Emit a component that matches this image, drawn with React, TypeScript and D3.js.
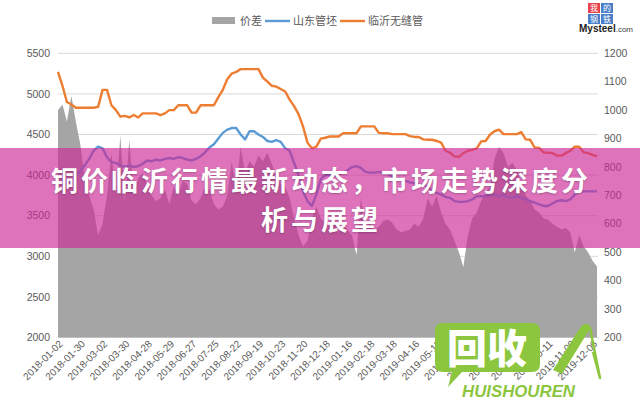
import React from 'react';
import * as d3 from 'd3';

const dateLabels = [
  '2018-01-02', '2018-01-30', '2018-03-02', '2018-03-30', '2018-04-28', '2018-05-29',
  '2018-06-27', '2018-07-25', '2018-08-22', '2018-09-19', '2018-10-23', '2018-11-20',
  '2018-12-18', '2019-01-16', '2019-02-18', '2019-03-18', '2019-04-16', '2019-05-15',
  '2019-06-13', '2019-07-11', '2019-08-08', '2019-09-05', '2019-10-11', '2019-11-08',
  '2019-12-06',
];

// 临沂无缝管 (left axis)
const linyiSeamless = [
  5270, 5100, 4900, 4870, 4830, 4830, 4830, 4830, 4830, 4840,
  5050, 5050, 4860, 4800, 4720, 4730, 4710, 4740, 4710, 4760,
  4760, 4760, 4760, 4740, 4760, 4800, 4800, 4860, 4860, 4860,
  4770, 4770, 4860, 4860, 4860, 4860, 4960, 5050, 5180, 5250,
  5270, 5305, 5305, 5305, 5305, 5305, 5200, 5150, 5100, 5090,
  5060, 5030, 4930, 4850, 4750, 4600, 4400, 4330, 4350, 4450,
  4460, 4475, 4475, 4475, 4515, 4515, 4515, 4515, 4600, 4600,
  4600, 4600, 4520, 4515, 4515, 4505, 4505, 4505, 4505, 4480,
  4470, 4470, 4440, 4435, 4435, 4420, 4400, 4300, 4275, 4230,
  4225, 4270, 4300, 4310, 4330, 4415, 4420, 4500, 4540, 4560,
  4505, 4505, 4505, 4505, 4530, 4440, 4435, 4340, 4335, 4280,
  4275, 4270, 4240, 4240, 4270, 4300, 4350, 4350, 4280, 4270,
  4250, 4230,
];

// 山东管坯 (left axis)
const shandongBillet = [
  4000, 3950, 3900, 3920, 3980, 4050, 4120, 4200, 4300, 4350,
  4330, 4220, 4160, 4150, 4120, 4100, 4120, 4100, 4110, 4140,
  4180, 4170, 4190, 4180, 4200, 4210, 4200, 4220, 4210, 4190,
  4180, 4200, 4230, 4280, 4340, 4380, 4450, 4520, 4560, 4580,
  4580, 4500, 4440, 4540, 4540, 4500, 4470, 4420, 4410, 4430,
  4410, 4330, 4300, 4150, 4000, 3800, 3680, 3620, 3760, 3950,
  4000, 4000, 3990, 4010, 4030, 4060, 4100, 4110, 4090, 4040,
  4030, 4030, 4040, 4030, 4020, 3980, 3960, 3950, 3930, 3910,
  3900, 3890, 3880, 3860, 3800, 3780, 3760, 3730, 3720, 3680,
  3670, 3670, 3680, 3700, 3740, 3740, 3740, 3750, 3760, 3740,
  3750, 3730, 3720, 3740, 3720, 3700, 3680, 3660, 3640, 3620,
  3620, 3650, 3680, 3690, 3680, 3700, 3760, 3800, 3800, 3800,
  3800, 3800,
];

// 价差 (right axis)
const priceDiff = [
  1000, 1020, 960, 1050, 960, 880, 760, 700, 650, 560,
  600, 700, 850, 700, 910, 680, 895, 700, 760, 780,
  740, 700, 680, 690, 720, 670, 730, 700, 750, 740,
  680, 670, 690, 730, 720, 670, 650, 660, 700, 820,
  720, 870, 780, 820, 800, 840, 820, 850, 810, 770,
  740, 730, 690, 620, 560, 520, 540, 620, 660, 620,
  600, 590, 610, 570, 600, 580, 560, 490, 690, 590,
  600, 580, 590, 610, 615, 605, 580, 570, 575, 580,
  600, 590, 620, 690, 660, 700, 640, 600, 580, 540,
  500, 448, 560, 620, 640, 680, 710, 730, 830, 870,
  850, 800, 815, 790, 740, 700, 680, 650, 640, 620,
  615, 600, 590, 580, 585, 570, 500, 560, 520, 500,
  470, 450,
];

const leftTicks = [2000, 2500, 3000, 3500, 4000, 4500, 5000, 5500];
const rightTicks = [200, 300, 400, 500, 600, 700, 800, 900, 1000, 1100, 1200];
const legendNames = ['价差', '山东管坯', '临沂无缝管'];
const titleLines = ['铜价临沂行情最新动态，市场走势深度分', '析与展望'];
const logoChars = ['我', '的', '钢', '铁'];

const GREY = '#a5a5a5';
const BLUE = '#5b9bd5';
const ORANGE = '#ed7d31';
const TXT = '#595959';
const GREEN = '#8cc63f';
const FONT = '"Liberation Sans", "Noto Sans CJK SC", sans-serif';
const CJK = '"Noto Sans CJK SC", sans-serif';

export default function App() {
  const n = priceDiff.length;
  const x = d3.scaleLinear().domain([0, n - 1]).range([58, 597]);
  const yL = d3.scaleLinear().domain([2000, 5500]).range([337.5, 53.3]);
  const yR = d3.scaleLinear().domain([200, 1200]).range([337.5, 53.3]);

  const area = d3.area<number>().x((_, i) => x(i)).y0(yR(200)).y1((d) => yR(d));
  const lineL = d3.line<number>().x((_, i) => x(i)).y((d) => yL(d));
  const step = (n - 2) / (dateLabels.length - 1);

  return (
    <svg width={640} height={400} style={{ position: 'absolute', left: 0, top: 0, background: '#fff' }}>
      <rect x={0} y={0} width={640} height={400} fill="#fff" />
      {leftTicks.map((t) => (
        <line key={'g' + t} x1={58} x2={598} y1={yL(t)} y2={yL(t)} stroke="#d9d9d9" strokeWidth={1} />
      ))}
      <path d={area(priceDiff) || ''} fill={GREY} />
      <path d={lineL(shandongBillet) || ''} fill="none" stroke={BLUE} strokeWidth={2.4} strokeLinejoin="round" />
      <path d={lineL(linyiSeamless) || ''} fill="none" stroke={ORANGE} strokeWidth={2.4} strokeLinejoin="round" />

      {leftTicks.map((t) => (
        <text key={'l' + t} x={50} y={yL(t)} dy="0.35em" textAnchor="end" fontSize={10.5} fill={TXT} fontFamily={FONT}>{t}</text>
      ))}
      {rightTicks.map((t) => (
        <text key={'r' + t} x={604} y={yR(t)} dy="0.35em" textAnchor="start" fontSize={10.5} fill={TXT} fontFamily={FONT}>{t}</text>
      ))}
      {dateLabels.map((d, k) => (
        <text key={d} transform={`translate(${x(k * step) + 3},${342}) rotate(-45)`} textAnchor="end" dy="0.35em" fontSize={10} fill={TXT} fontFamily={FONT}>{d}</text>
      ))}

      {/* legend */}
      <rect x={212} y={17} width={23} height={7} fill={GREY} />
      <text x={240} y={21} dy="0.35em" fontSize={11} fill={TXT} fontFamily={CJK}>{legendNames[0]}</text>
      <line x1={265} x2={290} y1={21} y2={21} stroke={BLUE} strokeWidth={2.4} />
      <text x={293} y={21} dy="0.35em" fontSize={11} fill={TXT} fontFamily={CJK}>{legendNames[1]}</text>
      <line x1={340} x2={365} y1={21} y2={21} stroke={ORANGE} strokeWidth={2.4} />
      <text x={368} y={21} dy="0.35em" fontSize={11} fill={TXT} fontFamily={CJK}>{legendNames[2]}</text>

      {/* logo */}
      {logoChars.map((c, i) => {
        const cx = 588 + (i % 2) * 13;
        const cy = 3 + Math.floor(i / 2) * 11;
        return (
          <g key={c}>
            <rect x={cx} y={cy} width={12} height={10} fill={i === 0 ? '#e8414b' : '#4a7fc8'} />
            <text x={cx + 6} y={cy + 5} dy="0.35em" textAnchor="middle" fontSize={8} fill="#fff" fontFamily={CJK}>{c}</text>
          </g>
        );
      })}
      <text x={579} y={32} fontSize={10} fontWeight="bold" fill="#222" fontFamily={FONT}>Mysteel<tspan fontSize={8} fontWeight="normal" fill="#444">.com</tspan></text>

      {/* overlay band */}
      <rect x={0} y={148} width={640} height={100} fill="rgb(205,40,150)" fillOpacity={0.65} />
      {titleLines.map((t, i) => (
        <text key={t} x={321} y={182 + i * 39} dy="0.35em" textAnchor="middle" fontSize={27} letterSpacing={3} fontWeight="bold" fill="#fff" fontFamily={CJK} style={{ textShadow: '0 1px 2px rgba(0,0,0,0.25)' }}>{t}</text>
      ))}

      {/* watermark */}
      <path d="M443,323 H532 Q540,323 540,331 V364 Q540,372 532,372 H462 L448,387 L452,372 H443 Q435,372 435,364 V331 Q435,323 443,323 Z" fill={GREEN} />
      <text x={487} y={349} dy="0.36em" textAnchor="middle" fontSize={40} fontWeight="900" fill="#fff" fontFamily={CJK}>回收</text>
      <text x={462} y={397} fontSize={17} fontWeight="bold" fontStyle="italic" fill={GREEN} fontFamily={FONT} textLength={113} lengthAdjust="spacingAndGlyphs">HUISHOUREN</text>
      <path d="M553,370 L580,328 Q586,320 591,327 L562,374 Z" fill={GREEN} />
      <path d="M590,328 L600,378 L593,352" fill="none" stroke={GREEN} strokeWidth={2.5} strokeLinejoin="round" />
    </svg>
  );
}
